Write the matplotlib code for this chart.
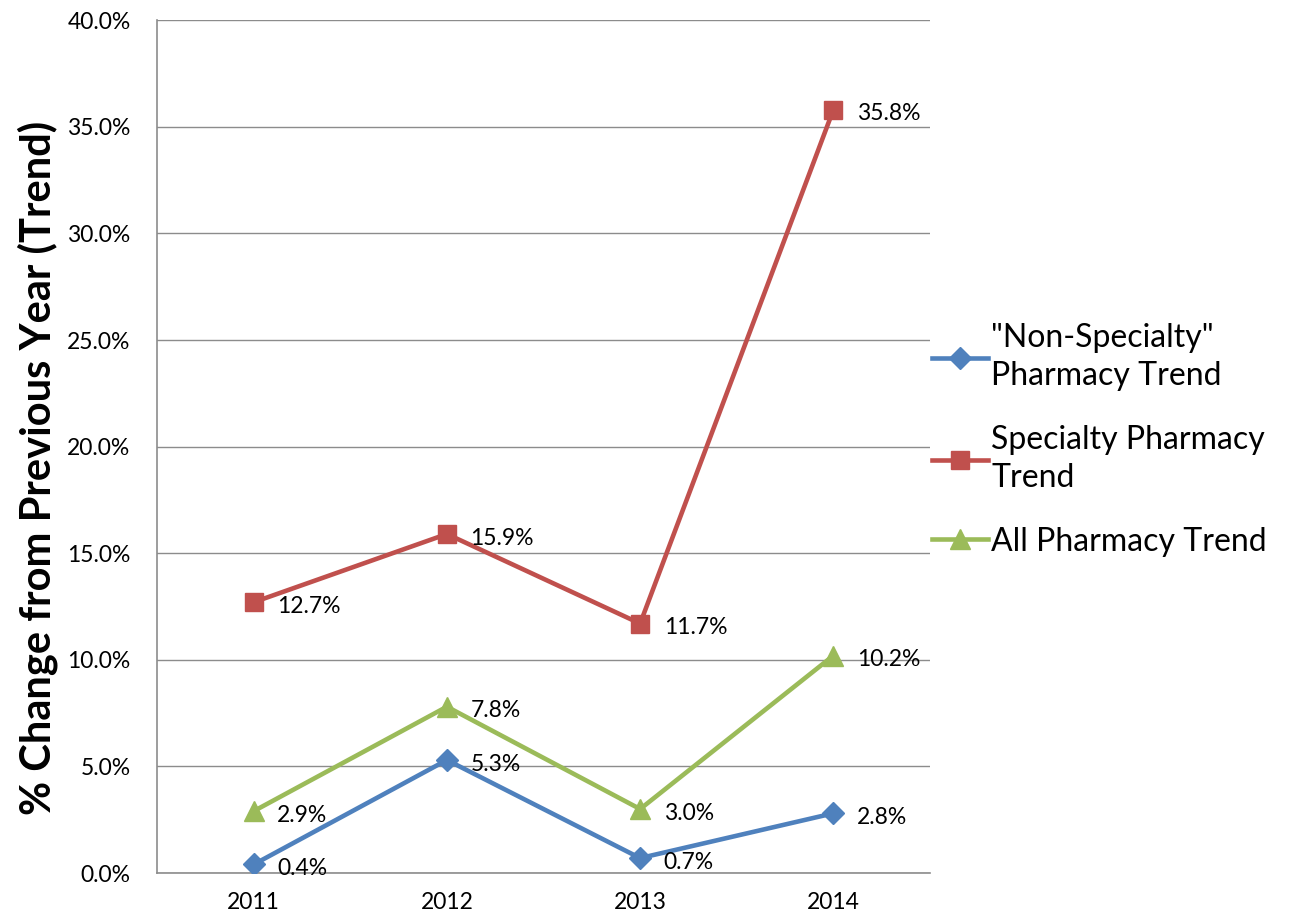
import matplotlib.pyplot as plt
from matplotlib.ticker import FuncFormatter

years = ['2011', '2012', '2013', '2014']
non_specialty = [0.4, 5.3, 0.7, 2.8]
specialty = [12.7, 15.9, 11.7, 35.8]
all_pharmacy = [2.9, 7.8, 3.0, 10.2]

series = [
    ('"Non-Specialty"\nPharmacy Trend', non_specialty, '#4F81BD', 'D', 11),
    ('Specialty Pharmacy\nTrend', specialty, '#C0504D', 's', 13),
    ('All Pharmacy Trend', all_pharmacy, '#9BBB59', '^', 14),
]

plt.rcParams['font.family'] = ['Lato', 'DejaVu Sans']

fig = plt.figure(figsize=(12.89, 9.18), dpi=100)
ax = fig.add_axes([0.1218, 0.049, 0.5997, 0.929])

x = list(range(len(years)))
for name, vals, color, marker, ms in series:
    ax.plot(x, vals, color=color, lw=3.3, marker=marker, markersize=ms,
            label=name, zorder=3)
    for xi, v in zip(x, vals):
        ax.annotate('%.1f%%' % v, (xi, v), xytext=(17, -3),
                    textcoords='offset points', ha='left', va='center',
                    fontsize=16.5, color='black', zorder=4)

ax.set_xlim(-0.5, len(years) - 0.5)
ax.set_ylim(0, 40)
ax.set_yticks(range(0, 41, 5))
ax.yaxis.set_major_formatter(FuncFormatter(lambda v, p: '%.1f%%' % v))
ax.set_xticks(x)
ax.set_xticklabels(years)
ax.tick_params(axis='both', length=0, labelsize=16.5)
ax.tick_params(axis='x', pad=14)
ax.tick_params(axis='y', pad=19)
ax.grid(axis='y', color='#8c8c8c', lw=1)
ax.set_axisbelow(True)
for s in ['top', 'right']:
    ax.spines[s].set_visible(False)
for s in ['left', 'bottom']:
    ax.spines[s].set_color('#8c8c8c')
    ax.spines[s].set_linewidth(1.2)

fig.text(38 / 1289, 0.49, '% Change from Previous Year (Trend)', rotation=90,
         ha='center', va='center', fontsize=30, fontweight='bold')

leg = fig.legend(loc='center left', bbox_to_anchor=(932 / 1289, 0.521),
                 frameon=False, borderpad=0, borderaxespad=0,
                 fontsize=23, handlelength=1.75, handletextpad=0.1,
                 labelspacing=1.05)
for t in leg.get_texts():
    t.set_linespacing(1.35)

fig.savefig('out.png', dpi=100)
